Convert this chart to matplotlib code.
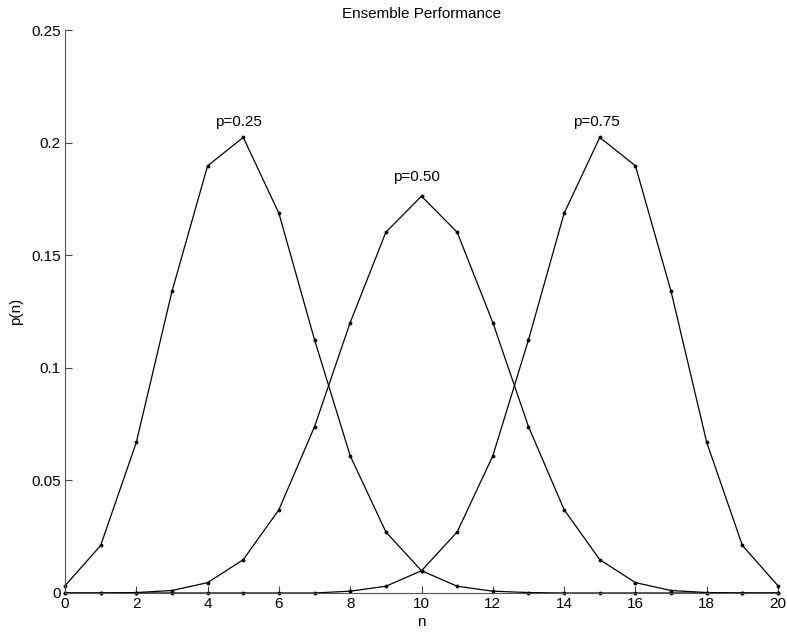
import matplotlib
matplotlib.use("Agg")
import matplotlib.pyplot as plt

plt.rcParams['font.family'] = ['Liberation Sans', 'DejaVu Sans']

n = list(range(21))
p25 = [0.0032, 0.0211, 0.0669, 0.1339, 0.1897, 0.2023, 0.1686, 0.1124, 0.0609, 0.0271,
       0.0099, 0.0030, 0.0008, 0.0002, 0.0000, 0.0000, 0.0000, 0.0000, 0.0000, 0.0000, 0.0000]
p50 = [0.0000, 0.0000, 0.0002, 0.0011, 0.0046, 0.0148, 0.0370, 0.0739, 0.1201, 0.1602,
       0.1762, 0.1602, 0.1201, 0.0739, 0.0370, 0.0148, 0.0046, 0.0011, 0.0002, 0.0000, 0.0000]
p75 = [0.0000, 0.0000, 0.0000, 0.0000, 0.0000, 0.0000, 0.0000, 0.0000, 0.0008, 0.0030,
       0.0099, 0.0271, 0.0609, 0.1124, 0.1686, 0.2023, 0.1897, 0.1339, 0.0669, 0.0211, 0.0032]
labels = ["p=0.25", "p=0.50", "p=0.75"]
label_x = [4.87, 9.87, 14.9]
label_y = [0.209, 0.1847, 0.209]

fig = plt.figure(figsize=(7.87, 6.33), dpi=100)
ax = fig.add_axes([0.0826, 0.0632, 0.906, 0.8894])

for series in (p25, p50, p75):
    ax.plot(n, series, color='black', linewidth=0.9, marker='.', markersize=3.5, clip_on=False)

for lab, x, y in zip(labels, label_x, label_y):
    ax.text(x, y, lab, ha='center', va='center', fontsize=11)

ax.set_xlim(0, 20)
ax.set_ylim(0, 0.25)
ax.set_xticks(range(0, 21, 2))
ax.set_yticks([0, 0.05, 0.1, 0.15, 0.2, 0.25])
ax.set_yticklabels(['0', '0.05', '0.1', '0.15', '0.2', '0.25'])
ax.tick_params(direction='in', length=5, width=0.8, labelsize=11, color='#444444', pad=3)
ax.spines['top'].set_visible(False)
ax.spines['right'].set_visible(False)
ax.spines['left'].set_color('#555555')
ax.spines['bottom'].set_color('#555555')
ax.set_xlabel('n', fontsize=11, labelpad=3)
ax.set_ylabel('p(n)', fontsize=11, labelpad=6)
ax.set_title('Ensemble Performance', fontsize=11, pad=9)

fig.savefig('out.png', dpi=100)
